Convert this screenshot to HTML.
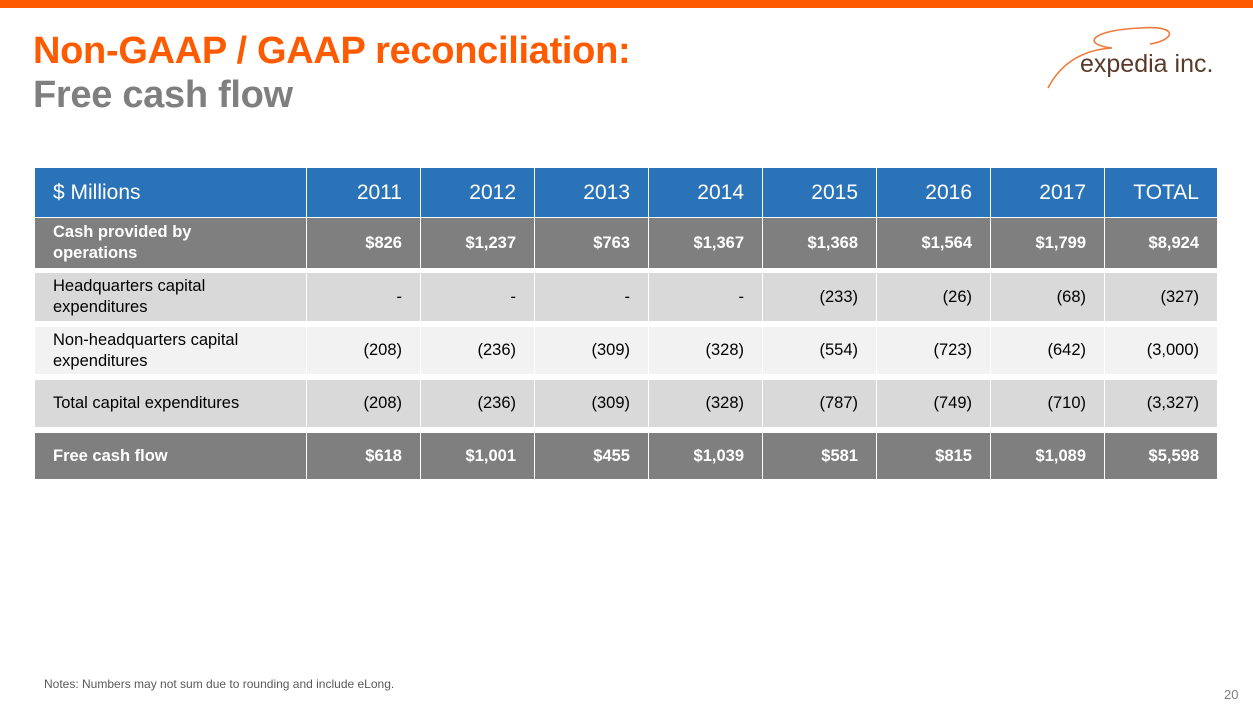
<!DOCTYPE html>
<html><head><meta charset="utf-8">
<style>
body{margin:0;width:1253px;height:705px;position:relative;overflow:hidden;background:#fff;font-family:"Liberation Sans",Arial,sans-serif}
.abs{position:absolute}
.cell{position:absolute;box-sizing:border-box;display:flex;align-items:center;font-size:16.5px}
.lab{padding-left:18px;padding-right:40px;line-height:21px}
.num{justify-content:flex-end;padding-right:18px}
</style></head><body>
<div class="abs" style="left:0;top:0;width:1253px;height:8px;background:#fe5a00"></div>
<div class="abs" style="left:33px;top:30px;font-size:38px;font-weight:bold;color:#fe5a00;letter-spacing:-0.3px">Non-GAAP / GAAP reconciliation:</div>
<div class="abs" style="left:33px;top:74px;font-size:38px;font-weight:bold;color:#7f7f7f;letter-spacing:-0.3px">Free cash flow</div>
<svg class="abs" style="left:1040px;top:20px" width="200" height="75">
<path d="M8 68 C20 45 40 30 72 28 C40 24 52 10 100 8 C140 5 135 20 110 24" fill="none" stroke="#f07a3a" stroke-width="1.6"/>
<text x="40" y="52" font-family="Liberation Sans, sans-serif" font-size="25" fill="#5a3a28">expedia inc.</text>
</svg>
<div id="tbl"></div>
<div class="abs" style="left:44px;top:677px;font-size:12px;color:#595959">Notes: Numbers may not sum due to rounding and include eLong.</div>
<div class="abs" style="left:1224px;top:687px;font-size:13px;color:#7f7f7f">20</div>
<script>
const headers=["$ Millions","2011","2012","2013","2014","2015","2016","2017","TOTAL"];
const labels=["Cash provided by operations","Headquarters capital expenditures","Non-headquarters capital expenditures","Total capital expenditures","Free cash flow"];
const cashOps=["$826","$1,237","$763","$1,367","$1,368","$1,564","$1,799","$8,924"];
const hqCapex=["-","-","-","-","(233)","(26)","(68)","(327)"];
const nonHqCapex=["(208)","(236)","(309)","(328)","(554)","(723)","(642)","(3,000)"];
const totalCapex=["(208)","(236)","(309)","(328)","(787)","(749)","(710)","(3,327)"];
const fcf=["$618","$1,001","$455","$1,039","$581","$815","$1,089","$5,598"];
const rows=[cashOps,hqCapex,nonHqCapex,totalCapex,fcf];
const tops=[218,273,327,380,433], hts=[50,48,47,47,46];
const bgs=["#7f7f7f","#d9d9d9","#f2f2f2","#d9d9d9","#7f7f7f"];
const fg=["#fff","#000","#000","#000","#fff"], bold=[1,0,0,0,1];
const tbl=document.getElementById('tbl');
function colX(i){return i===0?35:307+(i-1)*114;}
function colW(i){return i===0?272:(i===8?113:114);}
function add(x,y,w,h,txt,bg,col,b,cls,name,fs){
 const d=document.createElement('div');
 d.className='cell '+cls;
 
 
 d.style.cssText=`left:${x}px;top:${y}px;width:${w-1}px;height:${h}px;background:${bg};color:${col};font-weight:${b?'bold':'normal'}`+(fs?`;font-size:${fs}px`:'');
 d.textContent=txt; tbl.appendChild(d);
}
headers.forEach((h,i)=>{
 add(colX(i),168,colW(i),49,h,"#2b73b9","#fff",0,i?'num':'lab','header-'+i,21);
});
labels.forEach((l,r)=>{
 add(35,tops[r],272,hts[r],l,bgs[r],fg[r],bold[r],'lab','row-label-'+r);
 rows[r].forEach((v,i)=>add(colX(i+1),tops[r],colW(i+1),hts[r],v,bgs[r],fg[r],bold[r],'num','value-'+r+'-'+i));
});
</script>
</body></html>
